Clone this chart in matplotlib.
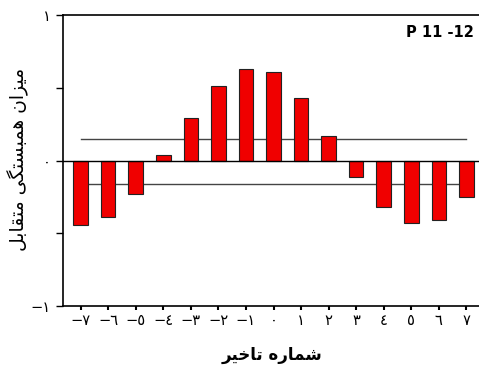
import matplotlib
matplotlib.use("Agg")
import matplotlib.pyplot as plt

# lags and cross-correlation values
lags = [-7, -6, -5, -4, -3, -2, -1, 0, 1, 2, 3, 4, 5, 6, 7]
ccf = [-0.44, -0.39, -0.23, 0.035, 0.29, 0.51, 0.63, 0.61, 0.43, 0.17,
       -0.11, -0.32, -0.43, -0.41, -0.25]
conf_upper = 0.146
conf_lower = -0.16

# tick labels (Arabic-Indic digits)
x_labels = ["\u2212\u0667", "\u2212\u0666", "\u2212\u0665", "\u2212\u0664",
            "\u2212\u0663", "\u2212\u0662", "\u2212\u0661", "\u0660",
            "\u0661", "\u0662", "\u0663", "\u0664", "\u0665", "\u0666", "\u0667"]
y_ticks = [-1, -0.5, 0, 0.5, 1]
y_labels = ["\u2212\u0661", "", "\u0660", "", "\u0661"]

# pre-shaped persian text (presentation forms, visual order)
# "شماره تاخیر"
x_title = "\uFEAE\uFEF4\uFEA7\uFE8E\uFE97 \uFEE9\uFEAD\uFE8E\uFEE4\uFEB7"
# "میزان همبستگی متقابل"
y_title = ("\uFEDE\uFE91\uFE8E\uFED8\uFE98\uFEE3 "
           "\uFEF0\uFB95\uFE98\uFEB4\uFE92\uFEE4\uFEEB "
           "\uFEE5\uFE8D\uFEB0\uFEF4\uFEE3")
panel = "P 11 -12"

plt.rcParams['font.family'] = ['DejaVu Sans']

fig = plt.figure(figsize=(4.79, 3.76), dpi=100)
ax = fig.add_axes([0.1315, 0.186, 0.879, 0.774])

ax.bar(lags, ccf, width=0.53, color='#f00000', edgecolor='#222222', linewidth=0.8, zorder=3)
ax.axhline(0, color='black', linewidth=1.0, zorder=4)
ax.plot([lags[0], lags[-1]], [conf_upper, conf_upper], color='#444444', linewidth=1.0, zorder=2)
ax.plot([lags[0], lags[-1]], [conf_lower, conf_lower], color='#444444', linewidth=1.0, zorder=2)

ax.set_xlim(-7.64, 7.64)
ax.set_ylim(-1, 1)
ax.set_xticks(lags)
ax.set_xticklabels(x_labels, fontsize=10.5)
ax.set_yticks(y_ticks)
ax.set_yticklabels(y_labels, fontsize=10.5)
ax.tick_params(axis='x', length=3, width=1.5, pad=2)
ax.tick_params(axis='y', length=5, width=1, pad=4)
for s in ax.spines.values():
    s.set_linewidth(1.2)

ax.text(0.975, 0.94, panel, transform=ax.transAxes, ha='right', va='center',
        fontsize=10.5, fontweight='bold')

fig.text(0.568, 0.055, x_title, ha='center', va='center', fontsize=12, fontweight='bold')
fig.text(0.038, 0.575, y_title, ha='center', va='center', rotation=90, fontsize=13.5)

fig.savefig('out.png', dpi=100)
